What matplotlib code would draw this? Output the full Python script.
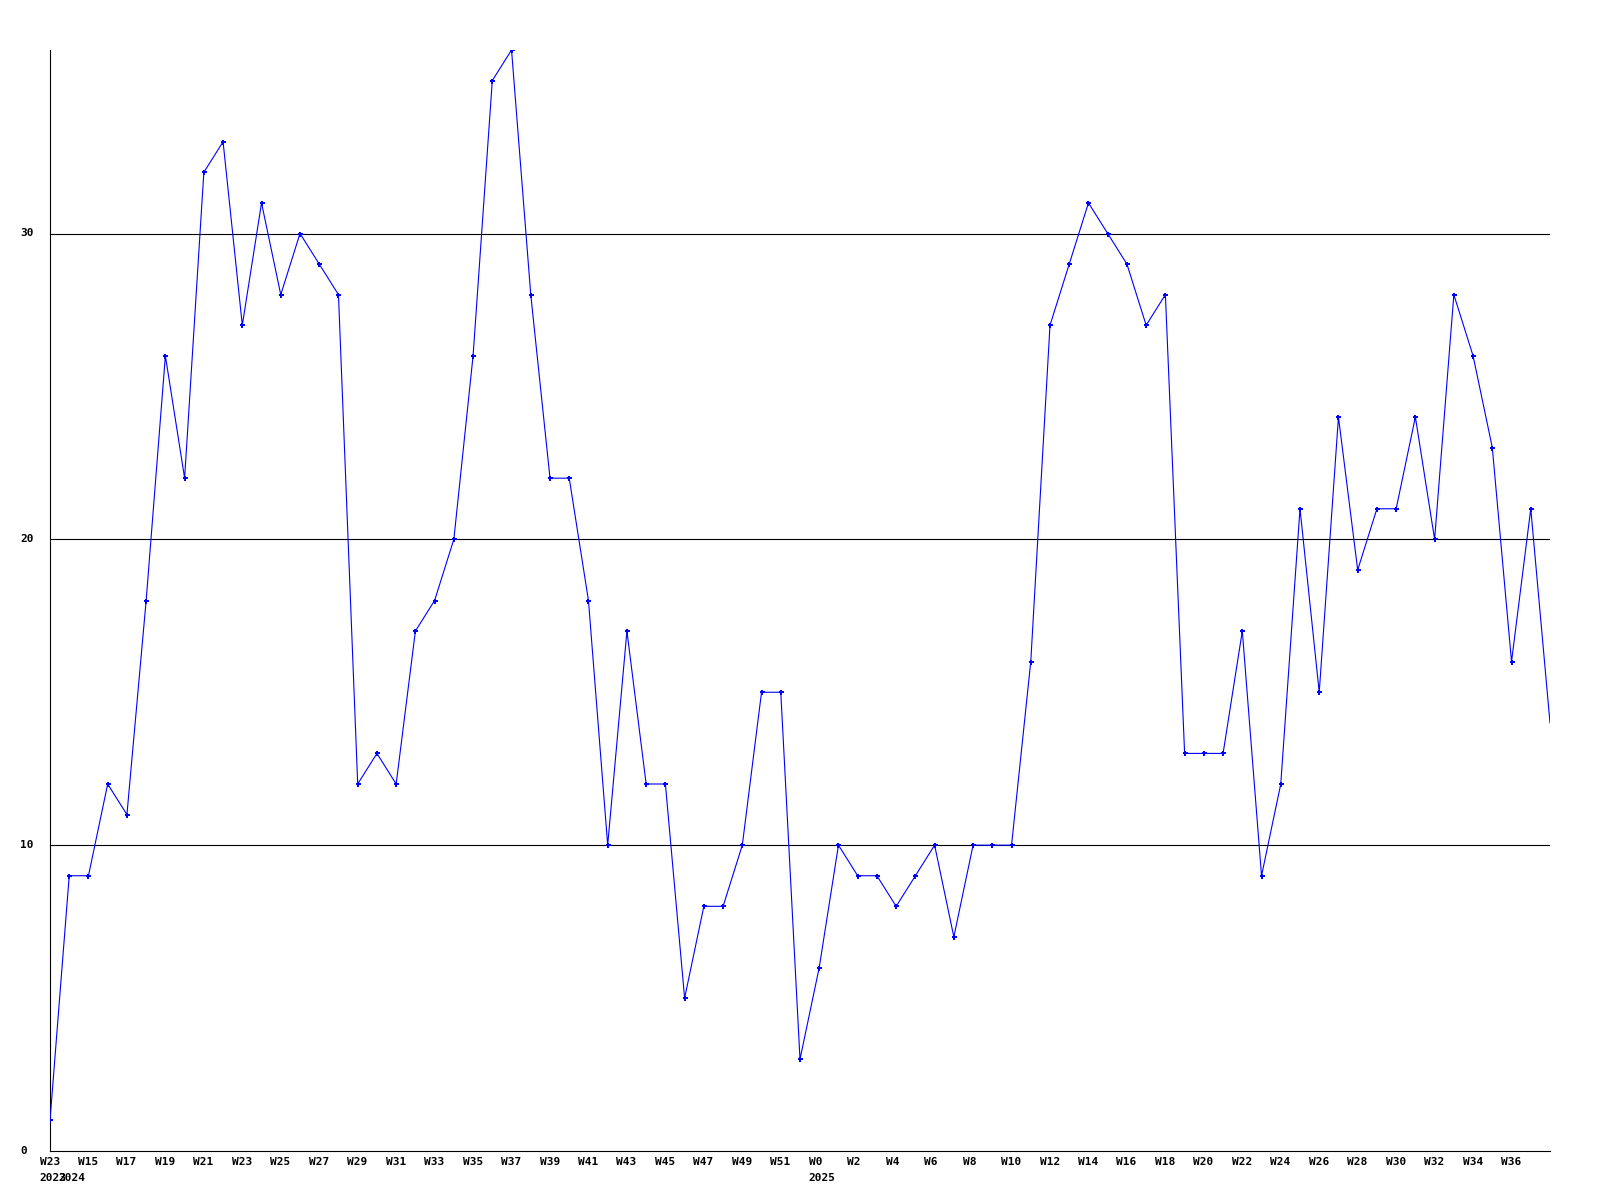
import numpy as np
import matplotlib.pyplot as plt
from matplotlib.transforms import ScaledTranslation, blended_transform_factory

# weekly counts (2023 W23, then 2024 W14 .. 2025 W38)
values = [1, 9, 9, 12, 11, 18, 26, 22, 32, 33,
          27, 31, 28, 30, 29, 28, 12, 13, 12, 17,
          18, 20, 26, 35, 36, 28, 22, 22, 18, 10,
          17, 12, 12, 5, 8, 8, 10, 15, 15, 3,
          6, 10, 9, 9, 8, 9, 10, 7, 10, 10,
          10, 16, 27, 29, 31, 30, 29, 27, 28, 13,
          13, 13, 17, 9, 12, 21, 15, 24, 19, 21,
          21, 24, 20, 28, 26, 23, 16, 21, 14]

# labels shown on every second point
week_labels = ["W23", "W15", "W17", "W19", "W21", "W23", "W25", "W27", "W29", "W31",
               "W33", "W35", "W37", "W39", "W41", "W43", "W45", "W47", "W49", "W51",
               "W0", "W2", "W4", "W6", "W8", "W10", "W12", "W14", "W16", "W18",
               "W20", "W22", "W24", "W26", "W28", "W30", "W32", "W34", "W36"]
years = ["2023", "2024", "2025"]
year_index = [0, 1, 40]
y_ticks = [0, 10, 20, 30]

fig = plt.figure(figsize=(16, 12), dpi=100)
ax = fig.add_axes([50 / 1600, 49 / 1200, 1500 / 1600, 1101 / 1200])

x = np.arange(len(values))
# last (current) week is drawn without a marker
ax.plot(x, values, color='#0000ff', lw=0.8, marker='P', ms=3.6, mew=0,
        markevery=list(range(len(values) - 1)), zorder=3)

ax.set_xlim(0, len(values) - 1)
ax.set_ylim(0, 36)
for v in y_ticks[1:]:
    ax.axhline(v, color='black', lw=0.8, zorder=1)

ax.spines["top"].set_visible(False)
ax.spines["right"].set_visible(False)
for s in ["left", "bottom"]:
    ax.spines[s].set_linewidth(0.8)
ax.set_xticks([])
ax.set_yticks([])

font = dict(family='DejaVu Sans Mono', weight='bold', size=8)

xt = blended_transform_factory(ax.transData, ax.transAxes)
week_tr = xt + ScaledTranslation(-10.5 / 100, -6 / 100, fig.dpi_scale_trans)
year_tr = xt + ScaledTranslation(-10.5 / 100, -22 / 100, fig.dpi_scale_trans)
for i, lab in enumerate(week_labels):
    ax.text(2 * i, 0, lab, transform=week_tr, ha='left', va='top', **font)
for i, lab in zip(year_index, years):
    ax.text(i, 0, lab, transform=year_tr, ha='left', va='top', **font)

yt = blended_transform_factory(ax.transAxes, ax.transData) + \
    ScaledTranslation(-30 / 100, 0, fig.dpi_scale_trans)
for v in y_ticks:
    ax.text(0, v, str(v), transform=yt, ha='left', va='center', **font)

fig.savefig('out.png', dpi=100)
